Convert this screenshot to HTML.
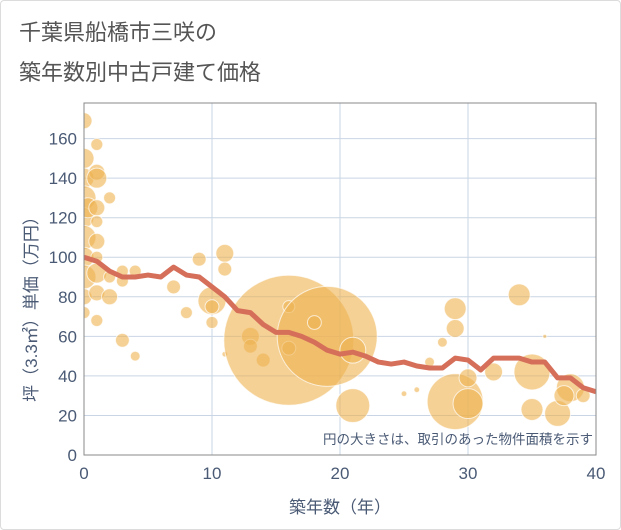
<!DOCTYPE html>
<html><head><meta charset="utf-8"><style>
body{margin:0;background:#fff;font-family:"Liberation Sans","Noto Sans CJK JP",sans-serif;}
#wrap{position:relative;width:619px;height:528px;border:1px solid #dcdcdc;border-radius:4px;background:#fff;}
.title{position:absolute;left:18px;font-size:22px;color:#555;}
</style></head><body>
<div id="wrap">
<div class="title" style="top:14px">千葉県船橋市三咲の</div>
<div class="title" style="top:54px">築年数別中古戸建て価格</div>
<svg id="chart" width="621" height="530" style="position:absolute;left:-1px;top:-1px"></svg>
</div>
<script>
const xTicks=[0,10,20,30,40];
const yTicks=[0,20,40,60,80,100,120,140,160];
const lineYears=[0,1,2,3,4,5,6,7,8,9,10,11,12,13,14,15,16,17,18,19,20,21,22,23,24,25,26,27,28,29,30,31,32,33,34,35,36,37,38,39,40];
const linePrices=[100,98,93,90,90,91,90,95,91,90,85,80,73,72,66,62,62,60,57,53,51,52,50,47,46,47,45,44,44,49,48,43,49,49,49,47,47,39,39,34,32];
const bubbleYears=[0,0,0,0,0,0,0,0,0,0,0.3,1,1,1,1,1,1,1,1,1,1,2,2,2,3,3,3,4,4,7,8,9,10,10,10,11,11,11,13,13,14,16,16,16,19,18,21,21,25,26,27,28,29,29,29,30,30,32,34,36,35,35,37,38,37.5,39];
const bubblePrices=[169,150,140,130,120,110,100,90,80,72,125,157,143,140,125,118,108,100,92,82,68,130,90,80,93,88,58,93,50,85,72,99,78,75,67,102,94,51,60,55,48,58,75,54,60,67,53,25,31,33,47,57,74,64,27,26,39,42,81,60,42,23,21,34,30,30];
const bubbleAreas=[16,25,25,36,25,36,25,36,16,9,25,9,16,25,16,9,16,9,25,16,9,9,9,16,9,9,12,9,6,12,9,12,49,12,9,20,12,2,20,12,12,1056,9,12,625,12,42,72,2,2,6,6,30,20,196,56,20,20,30,1,81,30,42,49,25,12];
const X0=84,X1=596,Y0=455,YT=103,XMAX=40,YMAX=178;
const sx=v=>X0+(v/XMAX)*(X1-X0);
const sy=v=>Y0-(v/YMAX)*(Y0-YT);
const sr=a=>Math.sqrt(a)*2;
const svg=document.getElementById('chart');
const NS='http://www.w3.org/2000/svg';
function mk(t,a,p){const e=document.createElementNS(NS,t);for(const k in a)e.setAttribute(k,a[k]);(p||svg).appendChild(e);return e;}
const defs=mk('defs',{});
const cp=mk('clipPath',{id:'plotclip'},defs);
mk('rect',{x:X0,y:YT,width:X1-X0,height:Y0-YT},cp);
const bg=mk('rect',{x:X0,y:YT,width:X1-X0,height:Y0-YT,fill:'#fff'});


yTicks.forEach(t=>{
 const g=mk('line',{x1:X0,x2:X1,y1:sy(t),y2:sy(t),stroke:'#c9d5e4','stroke-width':1});
 
 
 const l=mk('text',{x:X0-7,y:sy(t)+6,'text-anchor':'end','font-size':17,fill:'#4a5a75'});
 l.textContent=t;
 
 
});
xTicks.forEach(t=>{
 const g=mk('line',{x1:sx(t),x2:sx(t),y1:YT,y2:Y0,stroke:'#c9d5e4','stroke-width':1});
 
 
 const l=mk('text',{x:sx(t),y:Y0+24,'text-anchor':'middle','font-size':17,fill:'#4a5a75'});
 l.textContent=t;
 
 
});
const bg2=mk('g',{'clip-path':'url(#plotclip)'});


bubbleYears.forEach((x,i)=>{
 const c=mk('circle',{cx:sx(x),cy:sy(bubblePrices[i]),r:sr(bubbleAreas[i]),fill:'rgba(238,178,80,0.6)',stroke:'rgba(255,255,255,0.7)','stroke-width':1},bg2);
 
 
});
const pl=mk('polyline',{points:lineYears.map((x,i)=>sx(x)+','+sy(linePrices[i])).join(' '),fill:'none',stroke:'#d66f5a','stroke-width':5,'stroke-linejoin':'round','clip-path':'url(#plotclip)'});


const fr=mk('rect',{x:X0,y:YT,width:X1-X0,height:Y0-YT,fill:'none',stroke:'#888','stroke-width':1});


const note=mk('text',{x:593,y:444,'text-anchor':'end','font-size':13.5,fill:'#4a5a75'});
note.textContent='円の大きさは、取引のあった物件面積を示す';


const xt=mk('text',{x:340,y:513,'text-anchor':'middle','font-size':17,fill:'#4a5a75'});
xt.textContent='築年数（年）';


const yt=mk('text',{x:0,y:0,'text-anchor':'middle','font-size':17,fill:'#4a5a75',transform:'translate(37,305) rotate(-90)'});
yt.textContent='坪（3.3㎡）単価（万円）';


</script>
</body></html>
